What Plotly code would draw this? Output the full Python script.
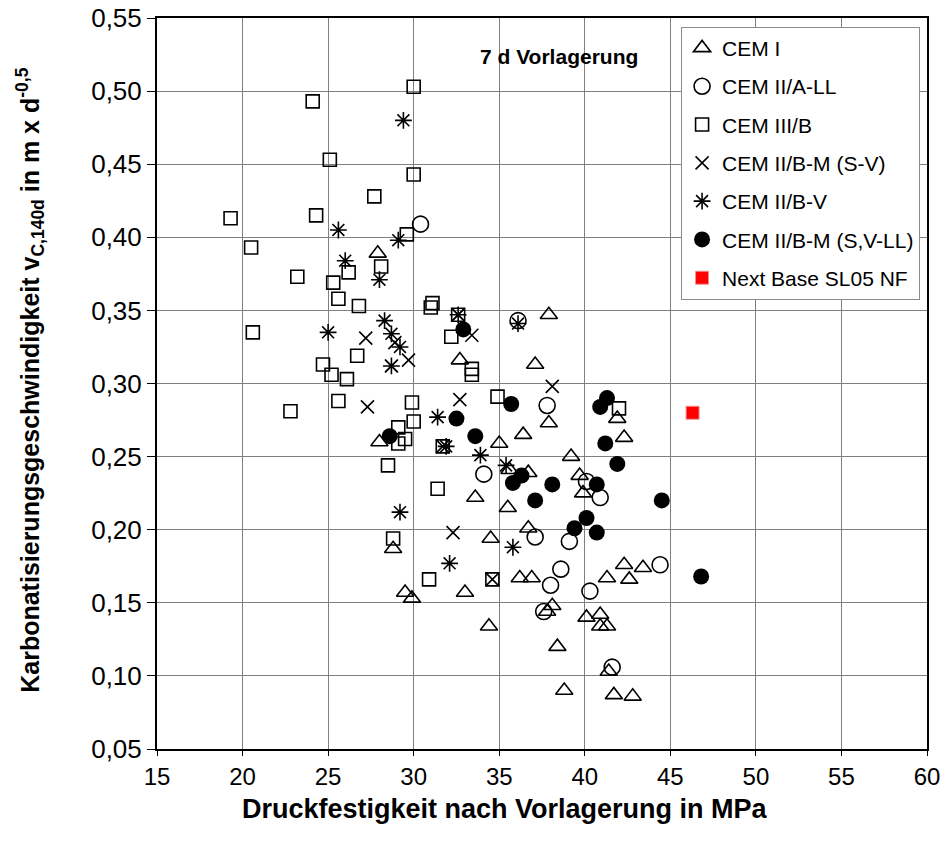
import plotly.graph_objects as go

# ---- data ----
cem1_x = [27.9, 28.0, 28.8, 37.9, 32.7, 37.1, 41.9, 37.9, 36.4, 42.3, 35.0, 39.2, 35.6, 36.7,
          39.7, 39.9, 33.6, 35.5, 36.7, 34.5, 29.5, 29.9, 33.0, 36.2, 36.9, 41.3, 42.3, 42.6,
          43.4, 38.1, 37.8, 40.1, 40.9, 40.9, 41.3, 34.4, 38.4, 41.4, 38.8, 41.7, 42.8]
cem1_y = [0.389, 0.260, 0.187, 0.347, 0.316, 0.313, 0.276, 0.273, 0.265, 0.263, 0.259, 0.250, 0.241, 0.239,
          0.237, 0.225, 0.222, 0.215, 0.201, 0.194, 0.157, 0.153, 0.157, 0.167, 0.167, 0.167, 0.176, 0.166,
          0.174, 0.148, 0.144, 0.140, 0.142, 0.134, 0.134, 0.134, 0.120, 0.103, 0.090, 0.087, 0.086]

cem2all_x = [30.4, 36.1, 37.8, 34.1, 40.1, 40.9, 37.1, 39.1, 38.6, 38.0, 40.3, 44.4, 37.6, 41.6]
cem2all_y = [0.409, 0.343, 0.285, 0.238, 0.233, 0.222, 0.195, 0.192, 0.173, 0.162, 0.158, 0.176, 0.144, 0.106]

cem3b_x = [24.1, 30.0, 25.1, 30.0, 27.7, 19.3, 24.3, 20.5, 29.6, 23.2, 28.1, 26.2, 25.3, 25.6,
           26.8, 20.6, 26.7, 24.7, 25.2, 26.1, 25.6, 22.8, 29.9, 30.0, 29.1, 29.5, 29.1, 28.5,
           28.8, 31.1, 31.0, 32.6, 32.2, 33.4, 33.4, 34.9, 42.0, 31.7, 31.4, 30.9, 34.6]
cem3b_y = [0.493, 0.503, 0.453, 0.443, 0.428, 0.413, 0.415, 0.393, 0.402, 0.373, 0.380, 0.376, 0.369, 0.358,
           0.353, 0.335, 0.319, 0.313, 0.306, 0.303, 0.288, 0.281, 0.287, 0.274, 0.270, 0.262, 0.259, 0.244,
           0.194, 0.355, 0.352, 0.347, 0.332, 0.310, 0.306, 0.291, 0.283, 0.257, 0.228, 0.166, 0.166]

cem2bm_sv_x = [27.2, 28.9, 29.7, 27.3, 28.7, 32.6, 33.4, 32.7, 31.7, 38.1, 32.3, 34.6]
cem2bm_sv_y = [0.331, 0.328, 0.316, 0.284, 0.312, 0.347, 0.333, 0.289, 0.257, 0.298, 0.198, 0.166]

cem2bv_x = [29.4, 25.6, 26.0, 28.0, 29.1, 25.0, 28.3, 28.7, 29.2, 28.7, 29.2, 32.6, 31.4, 31.9,
            33.9, 35.4, 36.1, 35.8, 32.1]
cem2bv_y = [0.480, 0.405, 0.384, 0.371, 0.398, 0.335, 0.343, 0.334, 0.325, 0.312, 0.212, 0.347, 0.277, 0.257,
            0.251, 0.244, 0.341, 0.188, 0.177]

cem2bm_svll_x = [28.6, 32.9, 32.5, 33.6, 35.7, 35.8, 36.3, 37.1, 38.1, 39.4, 40.1, 40.7, 40.7, 40.9,
                 41.3, 41.2, 41.9, 44.5, 46.8]
cem2bm_svll_y = [0.264, 0.337, 0.276, 0.264, 0.286, 0.232, 0.237, 0.220, 0.231, 0.201, 0.208, 0.198, 0.231, 0.284,
                 0.290, 0.259, 0.245, 0.220, 0.168]

nextbase_x = [46.3]
nextbase_y = [0.280]

x_ticks = [15, 20, 25, 30, 35, 40, 45, 50, 55, 60]
y_ticks = [0.05, 0.10, 0.15, 0.20, 0.25, 0.30, 0.35, 0.40, 0.45, 0.50, 0.55]

FONT = "Liberation Sans, Arial, sans-serif"
NARROW = "Liberation Sans Narrow, Arial Narrow, sans-serif"

fig = go.Figure()

def add(name, xs, ys, symbol, size, color="black", lw=1.6, lcolor="black"):
    fig.add_trace(go.Scatter(
        x=xs, y=ys, mode="markers", name=name, legendgroup=name,
        marker=dict(symbol=symbol, size=size, color=color,
                    line=dict(color=lcolor, width=lw)),
    ))

add("CEM I", cem1_x, cem1_y, "triangle-up-open", 15)
add("CEM II/A-LL", cem2all_x, cem2all_y, "circle-open", 16)
add("CEM III/B", cem3b_x, cem3b_y, "square-open", 13)
add("CEM II/B-M (S-V)", cem2bm_sv_x, cem2bm_sv_y, "x-thin-open", 13)
add("CEM II/B-V", cem2bv_x, cem2bv_y, "asterisk-open", 14)
add("CEM II/B-M (S,V-LL)", cem2bm_svll_x, cem2bm_svll_y, "circle", 16, color="black", lw=0)
add("Next Base SL05 NF", nextbase_x, nextbase_y, "square", 13, color="#ff0000", lw=1, lcolor="#f09090")

fig.update_layout(
    width=945, height=843,
    margin=dict(l=157, r=18, t=18, b=94, autoexpand=False),
    paper_bgcolor="white", plot_bgcolor="white",
    separators=", ",
    font=dict(family=FONT, size=24, color="black"),
    showlegend=True,
    legend=dict(
        x=0.991, y=0.988, xanchor="right", yanchor="top",
        bgcolor="white", bordercolor="#8c8c8c", borderwidth=1,
        font=dict(family=FONT, size=21, color="black"),
        tracegroupgap=8, itemwidth=30,
    ),
    xaxis=dict(
        range=[15, 60], tickvals=x_ticks, ticktext=[str(v) for v in x_ticks],
        showgrid=True, gridcolor="#808080", gridwidth=1,
        showline=True, linecolor="black", linewidth=2, mirror=True,
        ticks="outside", ticklen=5, tickcolor="black", tickwidth=1,
        tickfont=dict(family=FONT, size=24), zeroline=False, automargin=False,
    ),
    yaxis=dict(
        range=[0.05, 0.55], tickvals=y_ticks, tickformat=".2f",
        showgrid=True, gridcolor="#808080", gridwidth=1,
        showline=True, linecolor="black", linewidth=2, mirror=True,
        ticks="outside", ticklen=8, tickcolor="black", tickwidth=1,
        tickfont=dict(family=FONT, size=26), zeroline=False, automargin=False,
    ),
    annotations=[
        dict(text="<b>7 d Vorlagerung</b>", xref="paper", yref="paper", x=0.522, y=0.947,
             xanchor="center", yanchor="middle", showarrow=False,
             font=dict(family=FONT, size=21, color="black")),
        dict(text="<b>Druckfestigkeit nach Vorlagerung in MPa</b>", xref="paper", yref="paper",
             x=0.452, y=-0.082, xanchor="center", yanchor="middle", showarrow=False,
             font=dict(family=FONT, size=27, color="black")),
        dict(text="<b>Karbonatisierungsgeschwindigkeit v<sub>C,140d</sub> in m x d<sup>-0,5</sup></b>",
             xref="paper", yref="paper", x=-0.165, y=0.505, textangle=-90,
             xanchor="center", yanchor="middle", showarrow=False,
             font=dict(family=NARROW, size=25, color="black")),
    ],
)

fig.write_html("out.html")
